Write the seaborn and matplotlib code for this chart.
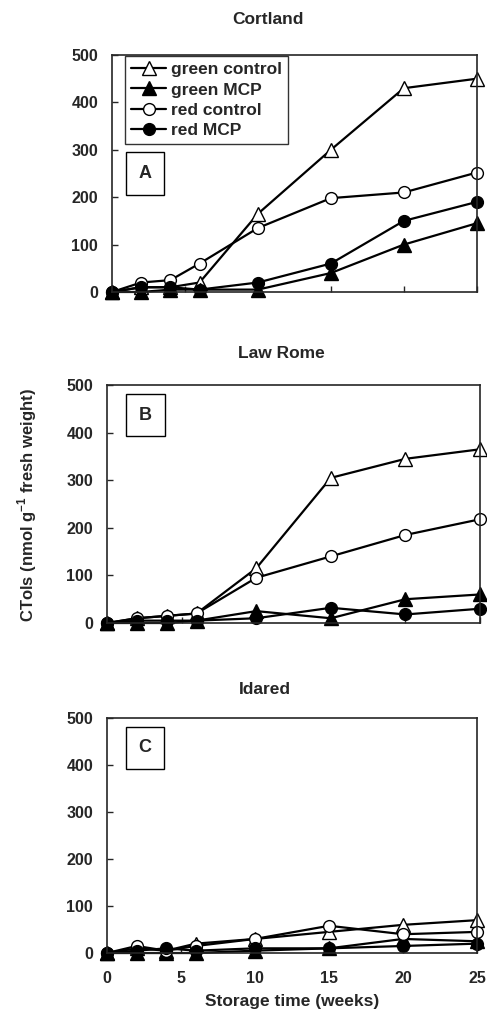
import numpy as np
import pandas as pd
import seaborn as sns
import matplotlib.pyplot as plt

# Storage weeks and CTols values (nmol/g fresh weight)
weeks = [0, 2, 4, 6, 10, 15, 20, 25]

cortland_green_control = [0, 10, 10, 20, 165, 300, 430, 450]
cortland_green_mcp = [0, 0, 5, 5, 5, 40, 100, 145]
cortland_red_control = [0, 20, 25, 60, 135, 198, 210, 252]
cortland_red_mcp = [0, 10, 10, 5, 20, 60, 150, 190]

lawrome_green_control = [0, 10, 15, 20, 115, 305, 345, 365]
lawrome_green_mcp = [0, 0, 0, 5, 25, 10, 50, 60]
lawrome_red_control = [0, 10, 15, 20, 95, 140, 185, 218]
lawrome_red_mcp = [0, 5, 5, 5, 10, 32, 18, 30]

idared_green_control = [0, 10, 5, 20, 30, 45, 60, 70]
idared_green_mcp = [0, 0, 0, 0, 5, 10, 30, 25]
idared_red_control = [0, 15, 5, 15, 30, 58, 40, 45]
idared_red_mcp = [0, 5, 10, 5, 10, 10, 15, 20]

series_names = ["green control", "green MCP", "red control", "red MCP"]
panel_titles = ["Cortland", "Law Rome", "Idared"]
panel_letters = ["A", "B", "C"]

panels = [
    [cortland_green_control, cortland_green_mcp, cortland_red_control, cortland_red_mcp],
    [lawrome_green_control, lawrome_green_mcp, lawrome_red_control, lawrome_red_mcp],
    [idared_green_control, idared_green_mcp, idared_red_control, idared_red_mcp],
]

sns.set_style("ticks")
plt.rcParams["font.family"] = ["Liberation Sans", "DejaVu Sans"]
plt.rcParams["font.weight"] = "bold"
plt.rcParams["mathtext.fontset"] = "custom"
plt.rcParams["mathtext.bf"] = "Liberation Sans:bold"
plt.rcParams["mathtext.rm"] = "Liberation Sans:bold"

# marker, face colour per series
styles = {
    "green control": ("^", "white"),
    "green MCP": ("^", "black"),
    "red control": ("o", "white"),
    "red MCP": ("o", "black"),
}

fig = plt.figure(figsize=(4.87, 10.17), dpi=100)
axes_pos = [
    [0.230, 0.7129, 0.749, 0.233],
    [0.2197, 0.3874, 0.766, 0.234],
    [0.2197, 0.0629, 0.760, 0.231],
]
title_pos = [(268, 20), (281, 353), (265, 690)]
letter_pos = [(0.09, 0.50), (0.103, 0.874), (0.103, 0.874)]

for i, vals in enumerate(panels):
    ax = fig.add_axes(axes_pos[i])
    for name, y in zip(series_names, vals):
        dat = pd.DataFrame({"week": weeks, "ctols": y})
        m, fc = styles[name]
        sns.lineplot(x="week", y="ctols", data=dat, ax=ax, color="black",
                     marker=m, markersize=10 if m == "^" else 8.5,
                     markerfacecolor=fc, markeredgecolor="black",
                     markeredgewidth=1, linewidth=1.6, label=name,
                     clip_on=False, legend=False)
    ax.set_xlim(0, 25)
    ax.set_ylim(0, 500)
    ax.set_yticks([0, 100, 200, 300, 400, 500])
    ax.set_xticks([0, 5, 10, 15, 20, 25])
    ax.tick_params(direction="in", length=4, width=1, labelsize=11.5)
    ax.tick_params(axis="y", pad=10)
    ax.tick_params(axis="x", pad=13)
    for s in ax.spines.values():
        s.set_linewidth(1.2)
    for lab in ax.get_yticklabels():
        lab.set_fontweight("bold")
    ax.set_ylabel("")
    if i < 2:
        ax.set_xlabel("")
        ax.set_xticklabels([])
    else:
        for lab in ax.get_xticklabels():
            lab.set_fontweight("bold")
        ax.set_xlabel("Storage time (weeks)", fontsize=12.5, fontweight="bold", labelpad=6)
    fig.text(title_pos[i][0] / 487, 1 - title_pos[i][1] / 1017, panel_titles[i],
             ha="center", va="center", fontsize=12.5, fontweight="bold")
    ax.text(letter_pos[i][0], letter_pos[i][1], panel_letters[i], transform=ax.transAxes,
            ha="center", va="center", fontsize=13, fontweight="bold",
            bbox=dict(boxstyle="square,pad=0.7", facecolor="white", edgecolor="black", linewidth=1))
    if i == 0:
        leg = ax.legend(loc="upper left", bbox_to_anchor=(0.036, 0.996), frameon=True,
                        fancybox=False, edgecolor="black", fontsize=12.5,
                        handlelength=2.0, handletextpad=0.3, borderpad=0.35,
                        labelspacing=0.3, borderaxespad=0)
        leg.get_frame().set_linewidth(1)
        for t in leg.get_texts():
            t.set_fontweight("bold")

fig.text(27 / 487, 0.503, r"CTols (nmol g$^{\mathbf{-1}}$ fresh weight)", rotation=90,
         ha="center", va="center", fontsize=12, fontweight="bold")

plt.savefig("out.png", dpi=100)
